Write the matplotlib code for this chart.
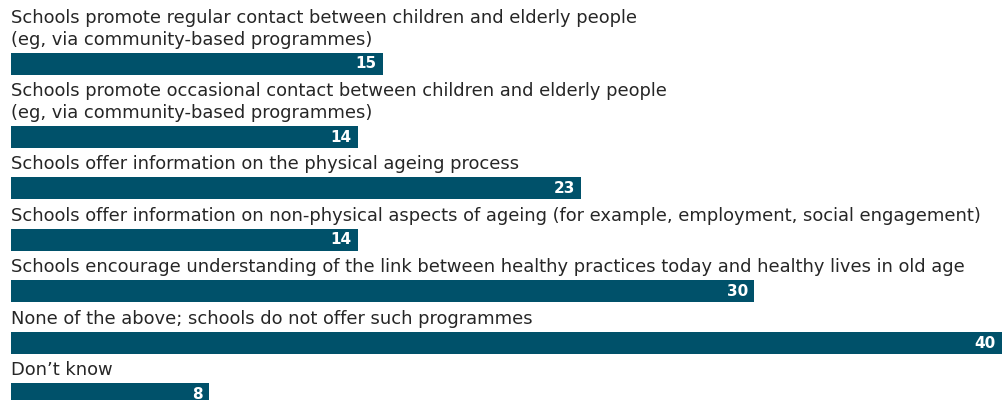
import matplotlib
matplotlib.use("Agg")
import matplotlib.pyplot as plt

# Survey answers and the share of respondents (%) choosing each one
labels = [
    "Schools promote regular contact between children and elderly people\n(eg, via community-based programmes)",
    "Schools promote occasional contact between children and elderly people\n(eg, via community-based programmes)",
    "Schools offer information on the physical ageing process",
    "Schools offer information on non-physical aspects of ageing (for example, employment, social engagement)",
    "Schools encourage understanding of the link between healthy practices today and healthy lives in old age",
    "None of the above; schools do not offer such programmes",
    "Don\u2019t know",
]
values = [15, 14, 23, 14, 30, 40, 8]

BAR_COLOR = "#00516A"
TEXT_COLOR = "#262626"

W, H = 1002, 400
fig = plt.figure(figsize=(W / 100, H / 100), dpi=100)
ax = fig.add_axes([0, 0, 1, 1])
ax.set_axis_off()

# x in survey units, y in pixel rows (top = 0)
left_px = 11
xmax = max(values)
scale = (W - left_px) / xmax
ax.set_xlim(-left_px / scale, xmax)
ax.set_ylim(H, 0)

bar_h = 22
row_step = 51.5
line_px = 21.5
first_center = 63.7
label_gap = 8

centers = []
y = first_center
for i, lab in enumerate(labels):
    n_lines = lab.count("\n") + 1
    if i > 0:
        y += row_step + line_px * (n_lines - 1)
    centers.append(y)

ax.barh(centers, values, height=bar_h, color=BAR_COLOR, left=0)

label_font = dict(family="DejaVu Sans", size=12.9, color=TEXT_COLOR)
for lab, c in zip(labels, centers):
    lines = lab.split("\n")
    top = c - bar_h / 2
    for k, line in enumerate(lines):
        base = top - label_gap - (len(lines) - 1 - k) * line_px
        ax.text(0, base, line, ha="left", va="baseline", **label_font)

for v, c in zip(values, centers):
    ax.text(v - 6 / scale, c + 4.8, f"{v}", ha="right", va="baseline",
            color="white", fontsize=11, fontweight="bold", family="DejaVu Sans")

fig.savefig("out.png", dpi=100)
